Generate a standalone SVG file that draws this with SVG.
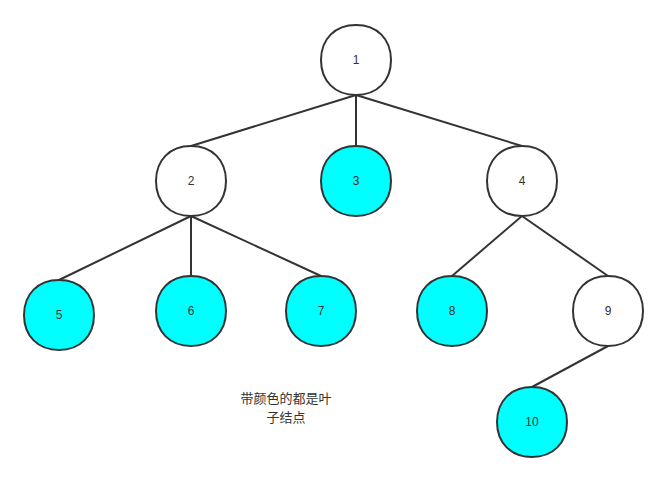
<svg xmlns="http://www.w3.org/2000/svg" xmlns:xlink="http://www.w3.org/1999/xlink" width="668" height="483" viewBox="0 0 668 483">
<style>
.n{stroke:#333;stroke-width:2}
.w{fill:#fff}
.c{fill:#00ffff}
.t{font-family:"Liberation Sans","Noto Sans CJK SC",sans-serif;font-size:12px;fill:#333;text-anchor:middle;dominant-baseline:central}
.e{stroke:#333;stroke-width:2;fill:none}
.lbl{font-family:"Noto Sans CJK SC","Liberation Sans",sans-serif;font-size:13px;fill:#333;text-anchor:middle}
</style>
<defs>
<path id="s" d="M0,-35 C21,-35 35,-21 35,0 C35,21 21,35 0,35 C-21,35 -35,21 -35,0 C-35,-21 -21,-35 0,-35 Z"/>
</defs>
<g id="connectors">
<path class="e" d="M356,95 L191,146"/>
<path class="e" d="M356,95 L356,146"/>
<path class="e" d="M356,95 L522,146"/>
<path class="e" d="M191,216 L59,280"/>
<path class="e" d="M191,216 L191,276"/>
<path class="e" d="M191,216 L321,276"/>
<path class="e" d="M522,216 L452,276"/>
<path class="e" d="M522,216 L608,276"/>
<path class="e" d="M608,346 L532,387"/>
</g>
<g id="n1"><use href="#s" class="n w" x="356" y="60"/><text class="t" x="356" y="60">1</text></g>
<g id="n2"><use href="#s" class="n w" x="191" y="181"/><text class="t" x="191" y="181">2</text></g>
<g id="n3"><use href="#s" class="n c" x="356" y="181"/><text class="t" x="356" y="181">3</text></g>
<g id="n4"><use href="#s" class="n w" x="522" y="181"/><text class="t" x="522" y="181">4</text></g>
<g id="n5"><use href="#s" class="n c" x="59" y="315"/><text class="t" x="59" y="315">5</text></g>
<g id="n6"><use href="#s" class="n c" x="191" y="311"/><text class="t" x="191" y="311">6</text></g>
<g id="n7"><use href="#s" class="n c" x="321" y="311"/><text class="t" x="321" y="311">7</text></g>
<g id="n8"><use href="#s" class="n c" x="452" y="311"/><text class="t" x="452" y="311">8</text></g>
<g id="n9"><use href="#s" class="n w" x="608" y="311"/><text class="t" x="608" y="311">9</text></g>
<g id="n10"><use href="#s" class="n c" x="532" y="422"/><text class="t" x="532" y="422">10</text></g>
<g id="note"><text class="lbl" x="286" y="403">带颜色的都是叶</text><text class="lbl" x="286" y="422">子结点</text></g>
</svg>
